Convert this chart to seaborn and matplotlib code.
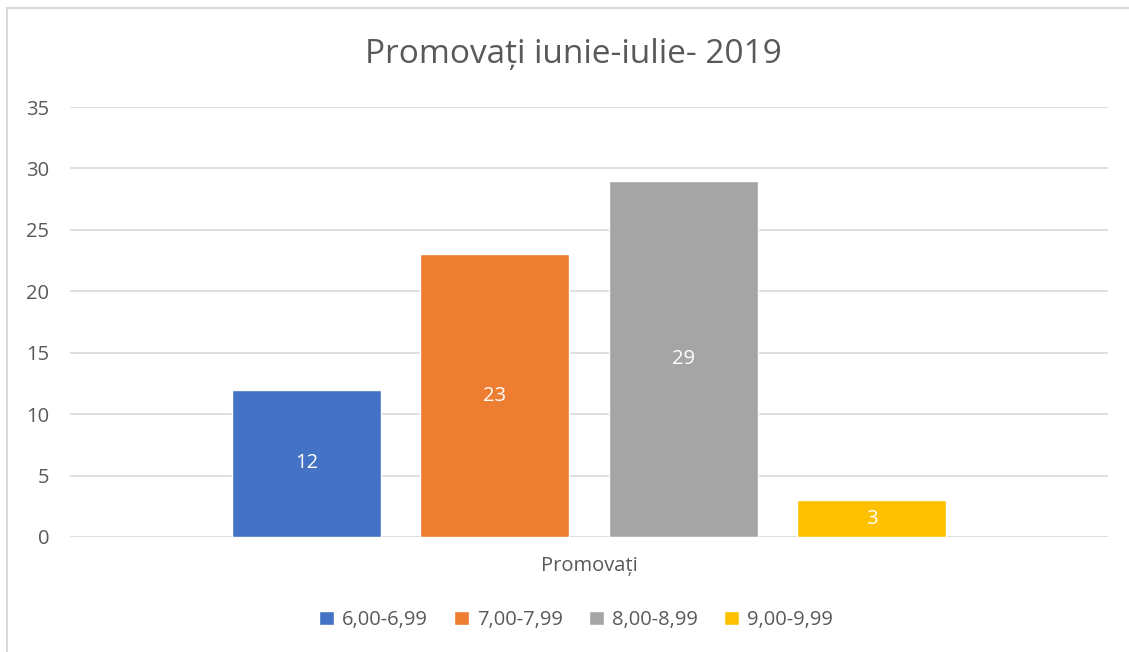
import matplotlib
matplotlib.use("Agg")
import matplotlib.pyplot as plt
import seaborn as sns
import pandas as pd
from matplotlib.patches import Rectangle

# chart data
category = "Promovați"
ranges = ["6,00-6,99", "7,00-7,99", "8,00-8,99", "9,00-9,99"]
counts = [12, 23, 29, 3]
colors = ["#4472C4", "#ED7D31", "#A5A5A5", "#FFC000"]
title = "Promovați iunie-iulie- 2019"

df = pd.DataFrame({"cat": [category] * len(ranges), "range": ranges, "count": counts})

sns.set_style("white")
plt.rcParams["font.family"] = ["Open Sans", "DejaVu Sans"]

fig = plt.figure(figsize=(11.29, 6.52), dpi=100)
ax = fig.add_axes([70 / 1129, 1 - 537 / 652, 1038 / 1129, 430 / 652])

sns.barplot(data=df, x="cat", y="count", hue="range", palette=colors,
            width=0.726, gap=0.21, ax=ax, legend=True, saturation=1)

for cont in ax.containers:
    ax.bar_label(cont, label_type="center", color="white", fontsize=14.5)

ax.set_ylim(0, 35)
ax.set_yticks(range(0, 36, 5))
ax.set_xlim(-0.5, 0.5)
ax.yaxis.grid(True, color="#d9d9d9", linewidth=1.2)
ax.set_axisbelow(True)
for s in ax.spines.values():
    s.set_visible(False)
ax.set_xlabel("")
ax.set_ylabel("")
ax.tick_params(axis="y", length=0, pad=15, labelsize=14.5, labelcolor="#595959")
ax.tick_params(axis="x", length=0, pad=14, labelsize=14.5, labelcolor="#595959")

handles, labels = ax.get_legend_handles_labels()
ax.legend_.remove()
fig.legend(handles, labels, loc="center", bbox_to_anchor=(576 / 1129, 1 - 620 / 652),
           ncol=4, frameon=False, fontsize=14.5, labelcolor="#595959",
           handlelength=0.75, handleheight=0.75, handletextpad=0.4, columnspacing=1.3)

fig.text(573 / 1129, 1 - 54 / 652, title, ha="center", va="center",
         fontsize=24, color="#595959")

# chart frame (cropped at right and bottom)
fig.patches.append(Rectangle((7 / 1129, -0.1), 1.2, 1 - 8 / 652 + 0.1,
                             transform=fig.transFigure, fill=False,
                             edgecolor="#d9d9d9", linewidth=1.5))

fig.savefig("out.png", dpi=100)
